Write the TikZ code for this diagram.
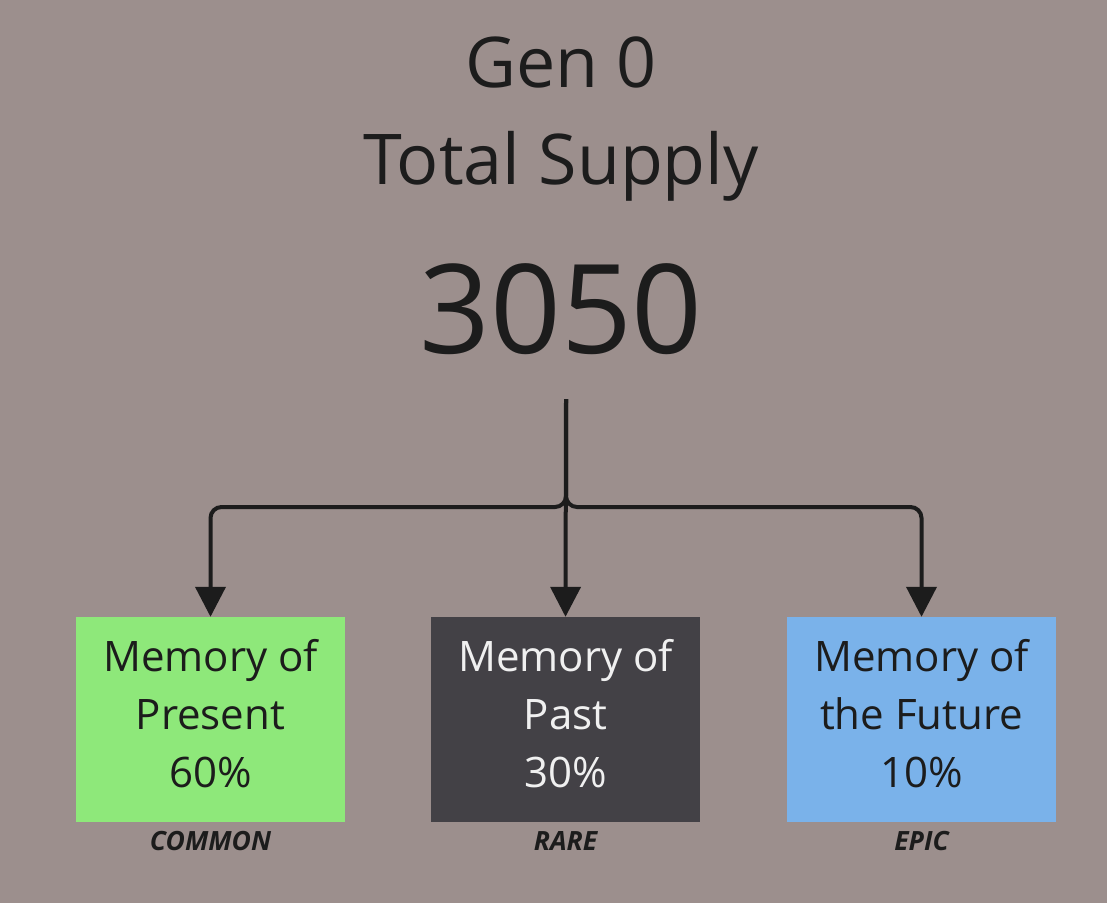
\documentclass[tikz,border=0pt]{standalone}
\usepackage{fontspec}
\setmainfont{Open Sans}
\usetikzlibrary{arrows.meta}
\definecolor{bgtaupe}{RGB}{156,143,141}
\definecolor{inkdark}{RGB}{28,28,28}
\definecolor{commongreen}{RGB}{142,232,122}
\definecolor{rareslate}{RGB}{67,65,70}
\definecolor{epicblue}{RGB}{122,178,234}

\begin{document}
\begin{tikzpicture}[x=1pt,y=-1pt,
  tierbox/.style={minimum width=269pt,minimum height=205pt,inner sep=0pt,align=center,
    text depth=12pt,font=\fontsize{42}{58}\selectfont},
  tiertag/.style={font=\fontsize{26.5}{30}\selectfont\bfseries\itshape,text=inkdark},
  feed/.style={draw=inkdark,line width=4pt,rounded corners=11pt,-{Triangle[width=30pt,length=30pt]}}]
  \fill[bgtaupe] (0,0) rectangle (1107,903);
  \useasboundingbox (0,0) rectangle (1107,903);
  \node[align=center,text=inkdark,font=\fontsize{70}{97}\selectfont] (gen) at (561,119){Gen 0\\Total Supply};
  \node[text=inkdark,font=\fontsize{124}{150}\selectfont] (supply) at (561,309){3050};
  \coordinate (trunk) at (566,399);
  \node[tierbox,fill=commongreen,text=inkdark] (present) at (210.5,719.5){Memory of\\Present\\60\%};
  \node[tierbox,fill=rareslate,text=white!94!black] (past) at (565.5,719.5){Memory of\\Past\\30\%};
  \node[tierbox,fill=epicblue,text=inkdark] (future) at (921.5,719.5){Memory of\\the Future\\10\%};
  \node[tiertag] (commontag) at (210.5,841){COMMON};
  \node[tiertag] (raretag) at (565.5,841){RARE};
  \node[tiertag] (epictag) at (921.5,841){EPIC};
  \draw[feed] (trunk) -- (566,507) -- (present.north |- 0,507) -- (present.north);
  \draw[feed] (trunk) -- (566,507) -- (future.north |- 0,507) -- (future.north);
  \draw[feed] (trunk) -- (past.north);
\end{tikzpicture}
\end{document}
